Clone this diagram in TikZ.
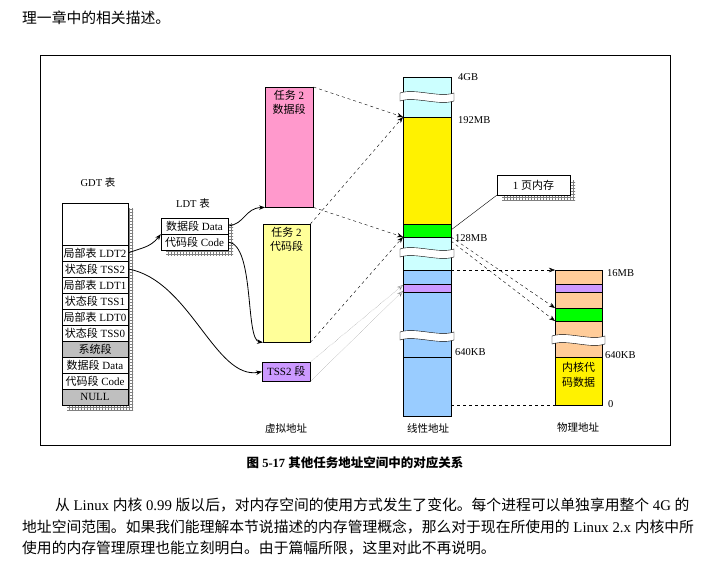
\documentclass[tikz,border=0pt]{standalone}
\usepackage{fontspec}
\setmainfont{Liberation Serif}
\newfontfamily\cjk{Noto Sans CJK SC}
\newcommand{\zh}[1]{{\cjk #1}}
\usetikzlibrary{arrows.meta,patterns}
\definecolor{lcyan}{HTML}{CCFFFF}
\definecolor{lblue}{HTML}{99CCFF}
\definecolor{lpurp}{HTML}{CC99FF}
\definecolor{lorng}{HTML}{FFCC99}
\definecolor{lyel}{HTML}{FFFF99}
\definecolor{pinkc}{HTML}{FF99CC}
\tikzset{
 lbl/.style={font=\fontsize{10.5}{13}\selectfont, inner sep=0pt},
 row/.style={draw, minimum width=66pt, minimum height=16pt, inner sep=0pt, font=\fontsize{11}{12}\selectfont},
 shad/.style={pattern=grid, pattern color=gray},
 dsh/.style={dashed, -{Stealth[length=6pt]}},
 crv/.style={-{Stealth[length=6pt]}, thick},
 txt/.style={font=\fontsize{14.8}{16}\selectfont, inner sep=0pt, anchor=west}
}
\newcommand{\brk}[3]{\fill[white,draw=black] (#1-3,#3-4) .. controls (#1+12,#3-9) and (#2-12,#3+1) .. (#2+3,#3-4) -- (#2+3,#3+4) .. controls (#2-12,#3+9) and (#1+12,#3-1) .. (#1-3,#3+4) -- cycle;}
\begin{document}
\begin{tikzpicture}[x=1pt,y=-1pt]
\useasboundingbox (0,0) rectangle (710,563);
\node[txt] (t0) at (22,18) {\zh{理一章中的相关描述。}};
\draw (40,55) rectangle (670,445);
% GDT
\fill[shad] (67,208) rectangle (133,410);
\draw[fill=white] (62,203) rectangle (128,245);
\node[lbl] (gdtt) at (98,182) {GDT \zh{表}};
\foreach \t [count=\i] in {\zh{局部表} LDT2,\zh{状态段} TSS2,\zh{局部表} LDT1,\zh{状态段} TSS1,\zh{局部表} LDT0,\zh{状态段} TSS0,\zh{系统段},\zh{数据段} Data,\zh{代码段} Code,NULL}{
  \pgfmathsetmacro\yy{237+16*\i}
  \ifnum\i=7 \node[row,fill=lightgray] (g\i) at (95,\yy) {\t};
  \else\ifnum\i=10 \node[row,fill=lightgray] (g\i) at (95,\yy) {\t};
  \else \node[row,fill=white] (g\i) at (95,\yy) {\t};\fi\fi
}
% LDT
\fill[shad] (166,223) rectangle (233,255);
\node[lbl] (ldtt) at (193,203) {LDT \zh{表}};
\node[row,fill=white,minimum width=67pt] (l1) at (194.5,226) {\zh{数据段} Data};
\node[row,fill=white,minimum width=67pt] (l2) at (194.5,242) {\zh{代码段} Code};
% virtual
\node[draw,fill=pinkc,minimum width=48pt,minimum height=120pt,anchor=north west,inner sep=0pt] (pk) at (265,87) {};
\node[lbl,align=center,anchor=north,font=\fontsize{11}{14}\selectfont] at (289,90) {\zh{任务} 2\\\zh{数据段}};
\node[draw,fill=lyel,minimum width=47pt,minimum height=118pt,anchor=north west,inner sep=0pt] (yl) at (263,224) {};
\node[lbl,align=center,anchor=north,font=\fontsize{11}{14}\selectfont] at (286.5,227) {\zh{任务} 2\\\zh{代码段}};
\node[draw,fill=lpurp,minimum width=48pt,minimum height=19pt,anchor=north west,inner sep=0pt,font=\fontsize{11}{12}\selectfont] (ts) at (262,362) {TSS2 \zh{段}};
% linear
\fill[lcyan] (403,77) rectangle (451,117);
\fill[yellow] (403,117) rectangle (451,224);
\fill[green] (403,224) rectangle (451,237);
\fill[lcyan] (403,237) rectangle (451,270);
\fill[lblue] (403,270) rectangle (451,416);
\fill[lpurp] (403,284) rectangle (451,292);
\draw (403,77) rectangle (451,416);
\foreach \y in {117,224,237,270,284,292,357} \draw (403,\y) -- (451,\y);
\brk{403}{451}{97}\brk{403}{451}{253}\brk{403}{451}{336}
\coordinate (lt) at (403,117); \coordinate (lg2) at (403,237);
\coordinate (lp1) at (403,285); \coordinate (lp2) at (403,291);
% physical
\fill[lorng] (555,270) rectangle (602,357);
\fill[lpurp] (555,284) rectangle (602,292);
\fill[green] (555,308) rectangle (602,321);
\fill[yellow] (555,357) rectangle (602,405);
\draw (555,270) rectangle (602,405);
\foreach \y in {284,292,308,321,357} \draw (555,\y) -- (602,\y);
\brk{555}{602}{340}
\node[lbl,align=center,font=\fontsize{11}{15}\selectfont] (kc) at (578.5,375) {\zh{内核代}\\\zh{码数据}};
% labels
\node[lbl,anchor=west] at (458,77) {4GB};
\node[lbl,anchor=west] at (458,120) {192MB};
\node[lbl,anchor=west] at (455,238) {128MB};
\node[lbl,anchor=west] at (455,352) {640KB};
\node[lbl,anchor=west] at (607,273) {16MB};
\node[lbl,anchor=west] at (605,355) {640KB};
\node[lbl,anchor=west] at (608,404) {0};
\node[lbl] at (286,428) {\zh{虚拟地址}};
\node[lbl] at (428,428) {\zh{线性地址}};
\node[lbl] at (578,428) {\zh{物理地址}};
% page box
\fill[shad] (502,180) rectangle (575,200);
\node[draw,fill=white,minimum width=73pt,minimum height=20pt,inner sep=0pt,font=\fontsize{11}{12}\selectfont] (pg) at (533.5,185) {1 \zh{页内存}};
\draw (pg.south west) -- (451,230);
% curves
\draw[crv] (g1.east) .. controls (140,248) and (150,248) .. (l1.south west);
\draw[crv] (g2.east) .. controls (190,280) and (215,380) .. (ts.west);
\draw[crv] (l1.east) .. controls (245,224) and (245,208) .. (pk.south west);
\draw[crv] (l2.east) .. controls (255,245) and (245,340) .. (yl.south west);
% dashed mapping
\draw[dsh] (pk.north east) -- (lt);
\draw[dsh] (pk.south east) -- (lg2);
\draw[dsh] (yl.north east) -- (lt);
\draw[dsh] (yl.south east) -- (lg2);
\draw[densely dotted, gray, -{Stealth[length=6pt,open]}] (ts.north east) -- (lp1);
\draw[densely dotted, gray, -{Stealth[length=6pt,open]}] (ts.south east) -- (lp2);
\draw[dsh] (451,270) -- (555,270);
\draw[dashed] (451,405) -- (555,405);
\draw[dsh] (451,237) -- (555,308);
\draw[dsh] (451,241) -- (555,321);
% caption & text
\node[font=\fontsize{12.5}{14}\selectfont\bfseries] (cap) at (355,463) {\zh{\bfseries 图} 5-17 \zh{\bfseries 其他任务地址空间中的对应关系}};
\node[txt] (p1) at (55,505) {\zh{从} Linux \zh{内核} 0.99 \zh{版以后，对内存空间的使用方式发生了变化。每个进程可以单独享用整个} 4G \zh{的}};
\node[txt] (p2) at (22,527) {\zh{地址空间范围。如果我们能理解本节说描述的内存管理概念，那么对于现在所使用的} Linux 2.x \zh{内核中所}};
\node[txt] (p3) at (22,548) {\zh{使用的内存管理原理也能立刻明白。由于篇幅所限，这里对此不再说明。}};
\end{tikzpicture}
\end{document}
